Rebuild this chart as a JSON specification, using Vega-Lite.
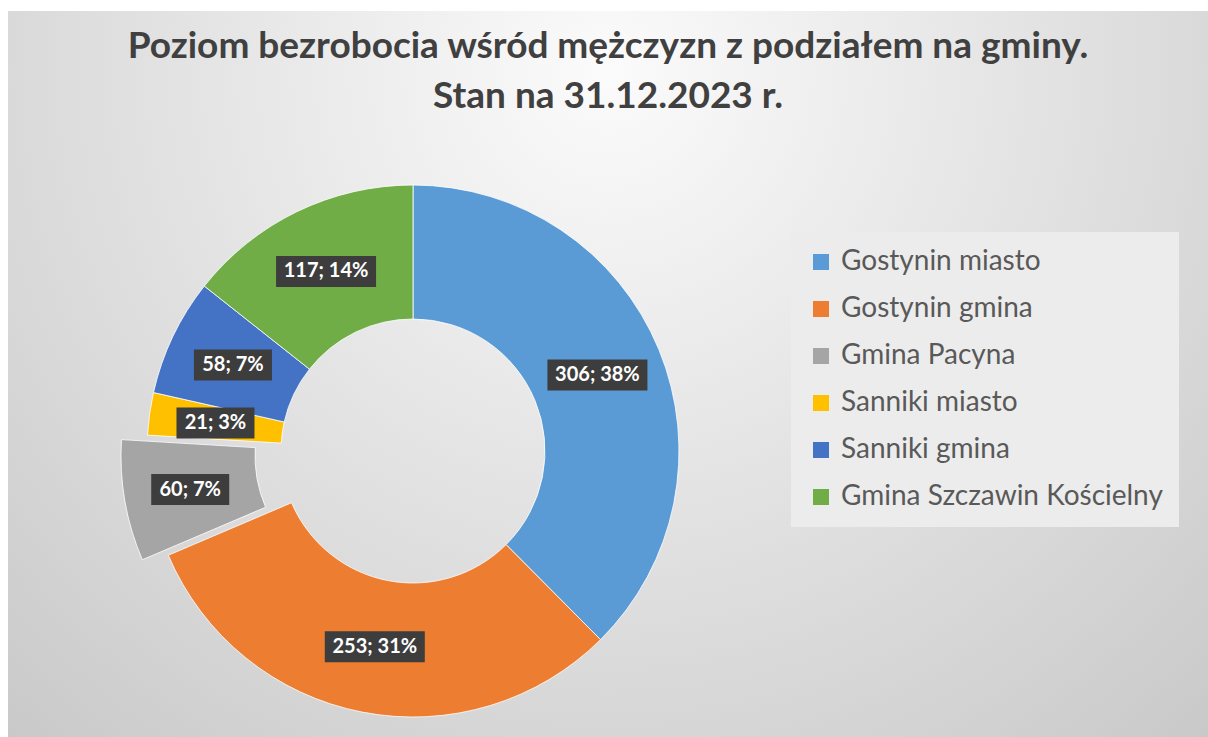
{
  "$schema": "https://vega.github.io/schema/vega-lite/v6.json",
  "width": 1200,
  "height": 726,
  "autosize": {"type": "none"},
  "padding": {"left": 8, "top": 11, "right": 0, "bottom": 0},
  "background": "#ffffff",
  "title": {
    "text": ["Poziom bezrobocia wśród mężczyzn z podziałem na gminy.", "Stan na 31.12.2023 r."],
    "font": "Lato",
    "fontSize": 37,
    "fontWeight": "bold",
    "color": "#404040",
    "anchor": "middle",
    "frame": "group",
    "lineHeight": 50,
    "offset": -105
  },
  "config": {
    "view": {
      "stroke": null,
      "fill": {
        "gradient": "radial",
        "x1": 0.5, "y1": 0.25, "r1": 0,
        "x2": 0.5, "y2": 0.25, "r2": 0.85,
        "stops": [
          {"offset": 0, "color": "#fbfbfb"},
          {"offset": 1, "color": "#c2c2c2"}
        ]
      }
    }
  },
  "data": {
    "values": [
      {"k": 1, "name": "Gostynin miasto", "value": 306},
      {"k": 2, "name": "Gostynin gmina", "value": 253},
      {"k": 3, "name": "Gmina Pacyna", "value": 60},
      {"k": 4, "name": "Sanniki miasto", "value": 21},
      {"k": 5, "name": "Sanniki gmina", "value": 58},
      {"k": 6, "name": "Gmina Szczawin Kościelny", "value": 117}
    ]
  },
  "transform": [
    {"joinaggregate": [{"op": "sum", "field": "value", "as": "total"}]},
    {"window": [{"op": "sum", "field": "value", "as": "cum"}], "sort": [{"field": "k"}], "frame": [null, 0]},
    {"calculate": "datum.cum - datum.value", "as": "start"},
    {"calculate": "2*PI*(datum.start + datum.value/2)/datum.total", "as": "mid"},
    {"calculate": "datum.name === 'Gmina Pacyna' ? 0.85 : 0.75", "as": "rr"},
    {"calculate": "datum.rr*sin(datum.mid)", "as": "lx"},
    {"calculate": "datum.rr*cos(datum.mid)", "as": "ly"},
    {"calculate": "datum.value + '; ' + round(100*datum.value/datum.total) + '%'", "as": "label"},
    {"calculate": "(length(datum.label)*11+12)/532", "as": "hw"},
    {"calculate": "datum.lx - datum.hw", "as": "bx1"},
    {"calculate": "datum.lx + datum.hw", "as": "bx2"},
    {"calculate": "datum.ly - 15.5/266", "as": "by1"},
    {"calculate": "datum.ly + 15.5/266", "as": "by2"}
  ],
  "layer": [
    {
      "mark": {"type": "arc", "radius": 266, "radius2": 132, "stroke": "#ffffff", "strokeWidth": 0.8},
      "encoding": {
        "x": {"datum": 0, "type": "quantitative", "scale": {"domain": [-1.52256, 2.98872], "nice": false, "zero": false}, "axis": null},
        "y": {"datum": 0, "type": "quantitative", "scale": {"domain": [-1.07519, 1.65414], "nice": false, "zero": false}, "axis": null},
        "theta": {"field": "value", "type": "quantitative", "stack": true},
        "order": {"field": "k", "type": "quantitative"},
        "opacity": {"condition": {"test": "datum.name === 'Gmina Pacyna'", "value": 0}, "value": 1},
        "color": {
          "field": "name",
          "type": "nominal",
          "scale": {
            "domain": ["Gostynin miasto", "Gostynin gmina", "Gmina Pacyna", "Sanniki miasto", "Sanniki gmina", "Gmina Szczawin Kościelny"],
            "range": ["#5B9BD5", "#ED7D31", "#A5A5A5", "#FFC000", "#4472C4", "#70AD47"]
          },
          "legend": {
            "orient": "none",
            "legendX": 783,
            "legendY": 221,
            "title": null,
            "fillColor": "#ececec",
            "padding": 16,
            "symbolType": "square",
            "symbolSize": 256,
            "symbolStrokeWidth": 0,
            "symbolOpacity": 1,
            "labelFont": "Lato",
            "labelFontSize": 28,
            "labelColor": "#595959",
            "rowPadding": 19,
            "labelOffset": 6,
            "labelLimit": 500
          }
        }
      }
    },
    {
      "mark": {"type": "arc", "radius": 266, "radius2": 132, "stroke": "#ffffff", "strokeWidth": 0.8, "xOffset": -26, "yOffset": 4.5},
      "encoding": {
        "x": {"datum": 0, "type": "quantitative", "scale": {"domain": [-1.52256, 2.98872], "nice": false, "zero": false}, "axis": null},
        "y": {"datum": 0, "type": "quantitative", "scale": {"domain": [-1.07519, 1.65414], "nice": false, "zero": false}, "axis": null},
        "theta": {"field": "value", "type": "quantitative", "stack": true},
        "order": {"field": "k", "type": "quantitative"},
        "opacity": {"condition": {"test": "datum.name === 'Gmina Pacyna'", "value": 1}, "value": 0},
        "color": {"field": "name", "type": "nominal"}
      }
    },
    {
      "mark": {"type": "rect", "color": "#3d3d3d"},
      "encoding": {
        "x": {"field": "bx1", "type": "quantitative", "scale": {"domain": [-1.52256, 2.98872], "nice": false, "zero": false}, "axis": null},
        "x2": {"field": "bx2"},
        "y": {"field": "by1", "type": "quantitative", "scale": {"domain": [-1.07519, 1.65414], "nice": false, "zero": false}, "axis": null},
        "y2": {"field": "by2"}
      }
    },
    {
      "mark": {"type": "text", "font": "Lato", "fontSize": 20, "fontWeight": "bold", "color": "#ffffff", "align": "center", "baseline": "middle"},
      "encoding": {
        "x": {"field": "lx", "type": "quantitative", "scale": {"domain": [-1.52256, 2.98872], "nice": false, "zero": false}, "axis": null},
        "y": {"field": "ly", "type": "quantitative", "scale": {"domain": [-1.07519, 1.65414], "nice": false, "zero": false}, "axis": null},
        "text": {"field": "label"}
      }
    }
  ]
}
